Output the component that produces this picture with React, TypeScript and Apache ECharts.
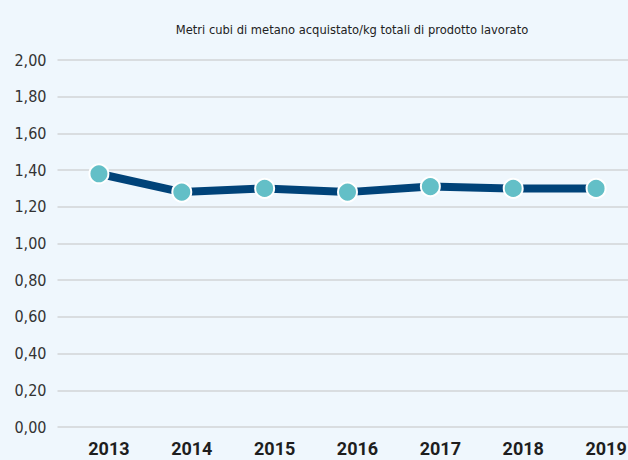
import React, { useEffect, useRef } from "react";
import * as echarts from "echarts";

const title = "Metri cubi di metano acquistato/kg totali di prodotto lavorato";
const years = ["2013", "2014", "2015", "2016", "2017", "2018", "2019"];
const values = [1.38, 1.28, 1.3, 1.28, 1.31, 1.3, 1.3];

export default function App() {
  const ref = useRef<HTMLDivElement>(null);
  useEffect(() => {
    const chart = echarts.init(ref.current!, null, { renderer: "svg" });
    chart.setOption({
      animation: false,
      backgroundColor: "#eff7fd",
      title: {
        text: title,
        left: 347,
        top: 18,
        textAlign: "center",
        textStyle: {
          fontFamily: "DejaVu Sans Condensed",
          fontSize: 12.8,
          fontWeight: "normal",
          color: "#222",
        },
      },
      grid: { left: 57.5, width: 580, top: 60, bottom: 33, outerBoundsMode: "none" },
      xAxis: {
        type: "category",
        data: years,
        boundaryGap: true,
        axisLine: { show: false },
        axisTick: { show: false },
        axisLabel: {
          margin: 12,
          padding: [0, 0, 0, 20],
          fontFamily: "Roboto",
          fontWeight: "bold",
          fontSize: 18,
          color: "#1e1e1e",
        },
      },
      yAxis: {
        type: "value",
        min: 0,
        max: 2,
        interval: 0.2,
        axisLine: { show: false },
        axisTick: { show: false },
        axisLabel: {
          margin: 11,
          fontFamily: "DejaVu Sans Condensed",
          fontSize: 16,
          color: "#333",
          formatter: (v: number) => v.toFixed(2).replace(".", ","),
        },
        splitLine: { lineStyle: { color: "#d2d4d6", width: 1.5 } },
      },
      series: [
        {
          type: "line",
          data: values,
          lineStyle: { color: "#004379", width: 8 },
          symbol: "circle",
          symbolSize: 19,
          itemStyle: { color: "#63bfc7", borderColor: "#ffffff", borderWidth: 2 },
          z: 3,
        },
      ],
    });
    return () => chart.dispose();
  }, []);
  return (
    <div
      ref={ref}
      style={{ position: "fixed", left: 0, top: 0, width: 628, height: 460 }}
    />
  );
}
